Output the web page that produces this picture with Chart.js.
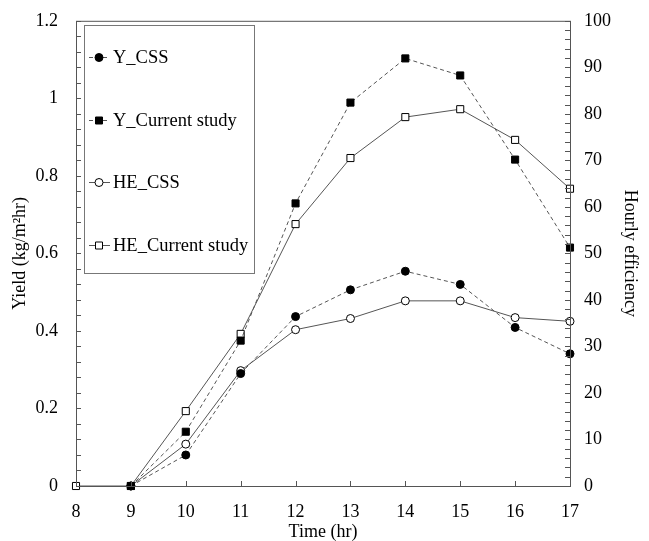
<!DOCTYPE html>
<html>
<head>
<meta charset="utf-8">
<script src="https://cdn.jsdelivr.net/npm/chart.js@4.4.1/dist/chart.umd.min.js"></script>
<style>
  html, body { margin: 0; padding: 0; background: #fff; }
  #wrap { width: 649px; height: 541px; }
</style>
</head>
<body>
<div id="wrap"><canvas id="lineChart" width="649" height="541"></canvas></div>
<script>
const hours = ['8', '9', '10', '11', '12', '13', '14', '15', '16', '17'];

// yield, kg/m2hr (left axis)
const yCss = [null, 0, 0.08, 0.29, 0.437, 0.506, 0.554, 0.52, 0.409, 0.341];
const yCurrent = [null, 0, 0.14, 0.375, 0.729, 0.989, 1.103, 1.059, 0.842, 0.615];

// hourly efficiency (right axis)
const heCss = [null, 0, 9, 24.8, 33.6, 36.0, 39.8, 39.8, 36.2, 35.4];
const heCurrent = [0, 0, 16.1, 32.7, 56.3, 70.5, 79.3, 81.0, 74.4, 63.9];

const serif = 'Liberation Serif, Times New Roman, serif';
const lineColor = '#555';

function series(label, data, axis, style, filled, dashed) {
  return {
    label: label,
    data: data,
    yAxisID: axis,
    borderColor: lineColor,
    borderWidth: 1,
    borderDash: dashed ? [4, 3] : [],
    pointStyle: style,
    pointRadius: style === 'rect' ? 5 : 4,
    pointHoverRadius: style === 'rect' ? 5 : 4,
    pointBackgroundColor: filled ? '#000' : '#fff',
    pointBorderColor: '#000',
    pointBorderWidth: 1,
    tension: 0,
    spanGaps: false,
    clip: false
  };
}

// frame, inward ticks and the boxed legend
const framePlugin = {
  id: 'frame',
  afterDraw(chart) {
    const ctx = chart.ctx;
    const a = chart.chartArea;
    const sx = chart.scales.x, sy = chart.scales.y, sy1 = chart.scales.y1;
    ctx.save();
    ctx.strokeStyle = lineColor;
    ctx.lineWidth = 1;
    ctx.setLineDash([]);
    ctx.strokeRect(a.left + 0.5, a.top + 0.5, a.right - a.left, a.bottom - a.top);

    ctx.beginPath();
    for (let i = 0; i < hours.length; i++) {
      const px = Math.round(sx.getPixelForValue(i)) + 0.5;
      ctx.moveTo(px, a.bottom);
      ctx.lineTo(px, a.bottom - 5);
    }
    for (let v = 0; v <= 1.2001; v += 0.04) {
      const py = Math.round(sy.getPixelForValue(v)) + 0.5;
      ctx.moveTo(a.left, py);
      ctx.lineTo(a.left + 5, py);
    }
    for (let v = 0; v <= 100; v += 2) {
      const py = Math.round(sy1.getPixelForValue(v)) + 0.5;
      ctx.moveTo(a.right, py);
      ctx.lineTo(a.right - 5, py);
    }
    ctx.stroke();

    // legend box
    ctx.strokeStyle = '#777';
    ctx.strokeRect(84.5, 25.5, 170, 248);
    const rows = [57, 120, 182, 245];
    chart.data.datasets.forEach((ds, i) => {
      const y = rows[i];
      ctx.strokeStyle = lineColor;
      ctx.setLineDash(ds.borderDash);
      ctx.beginPath();
      ctx.moveTo(89, y + 0.5);
      ctx.lineTo(110, y + 0.5);
      ctx.stroke();
      ctx.setLineDash([]);
      ctx.fillStyle = ds.pointBackgroundColor;
      ctx.strokeStyle = '#000';
      ctx.beginPath();
      if (ds.pointStyle === 'rect') {
        ctx.rect(95.5, y - 3, 7, 7);
      } else {
        ctx.arc(99, y + 0.5, 4, 0, Math.PI * 2);
      }
      ctx.fill();
      ctx.stroke();
      ctx.fillStyle = '#000';
      ctx.font = '18.5px ' + serif;
      ctx.textBaseline = 'middle';
      ctx.textAlign = 'left';
      ctx.fillText(ds.label, 113, y + 1);
    });
    ctx.restore();
  }
};

const ctx = document.getElementById('lineChart').getContext('2d');

const chart = new Chart(ctx, {
  type: 'line',
  data: {
    labels: hours,
    datasets: [
      series('Y_CSS', yCss, 'y', 'circle', true, true),
      series('Y_Current study', yCurrent, 'y', 'rect', true, true),
      series('HE_CSS', heCss, 'y1', 'circle', false, false),
      series('HE_Current study', heCurrent, 'y1', 'rect', false, false)
    ]
  },
  options: {
    responsive: false,
    animation: false,
    layout: { padding: { top: 19, left: 0, right: 0, bottom: 0 } },
    plugins: {
      legend: { display: false },
      tooltip: { enabled: false }
    },
    scales: {
      x: {
        offset: false,
        grid: { display: false },
        border: { display: false },
        ticks: { color: '#000', font: { family: serif, size: 18 }, padding: 7, maxRotation: 0, autoSkip: false },
        title: { display: true, text: 'Time (hr)', color: '#000', font: { family: serif, size: 18, lineHeight: 1 }, padding: { top: 0, bottom: 0 } },
        afterFit(scale) { scale.height = 55; }
      },
      y: {
        position: 'left',
        min: 0,
        max: 1.2,
        grid: { display: false },
        border: { display: false },
        ticks: {
          stepSize: 0.2,
          color: '#000',
          font: { family: serif, size: 18 },
          padding: 10,
          callback: v => String(+v.toFixed(2))
        },
        title: { display: true, text: 'Yield (kg/m²hr)', color: '#000', font: { family: serif, size: 18 }, padding: { top: 9, bottom: 0 } },
        afterFit(scale) { scale.width = 76; }
      },
      y1: {
        position: 'right',
        min: 0,
        max: 100,
        grid: { display: false },
        border: { display: false },
        ticks: { stepSize: 10, color: '#000', font: { family: serif, size: 18 }, padding: 6 },
        title: { display: true, text: 'Hourly efficiency', color: '#000', font: { family: serif, size: 18 }, padding: { top: 8, bottom: 0 } },
        afterFit(scale) { scale.width = 79; }
      }
    }
  },
  plugins: [framePlugin]
});
</script>
</body>
</html>
